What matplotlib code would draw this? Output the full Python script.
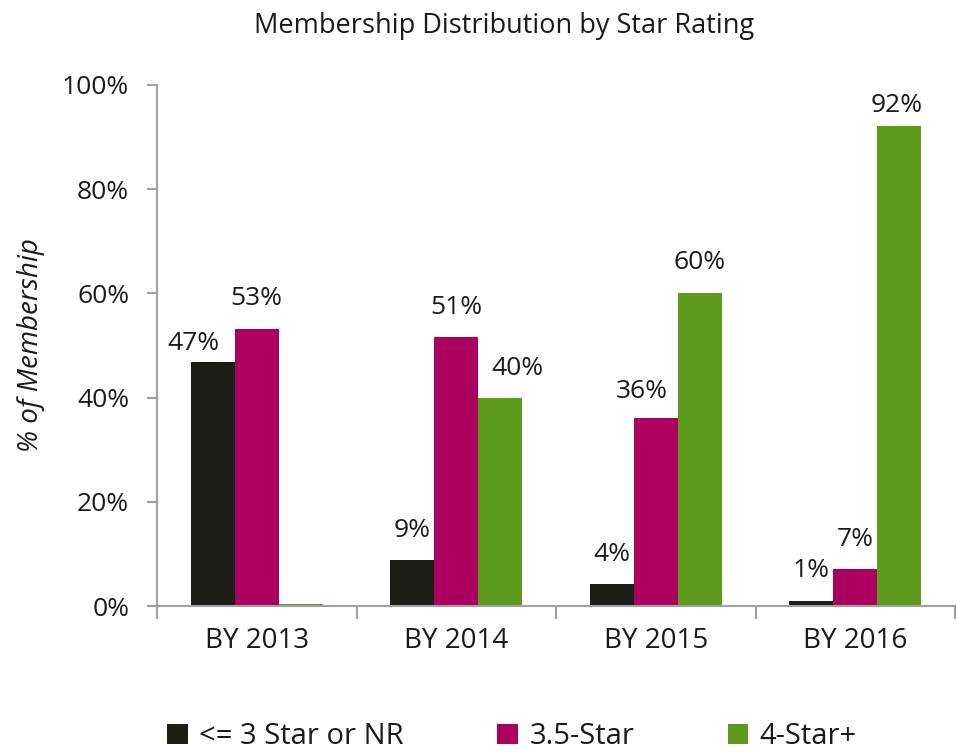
import numpy as np
import matplotlib.pyplot as plt

plt.rcParams['font.family'] = ['Open Sans', 'DejaVu Sans']

years = ['BY 2013', 'BY 2014', 'BY 2015', 'BY 2016']
series = ['<= 3 Star or NR', '3.5-Star', '4-Star+']
low = [46.8, 8.8, 4.2, 1.0]
mid = [53.2, 51.6, 36.1, 7.1]
high = [0.3, 39.9, 60.1, 92.1]
labels = [['47%', '9%', '4%', '1%'],
          ['53%', '51%', '36%', '7%'],
          ['', '40%', '60%', '92%']]
colors = ['#1d1d17', '#ab0060', '#5e9a1c']

# label nudges in pixels (series, category) -> (dx, dy), default (0, 30)
nudge = {(0, 0): (-19, 19), (2, 1): (17, 30), (1, 2): (-14, 26), (2, 3): (-2, 21)}

fig = plt.figure(figsize=(9.57, 7.52), dpi=100)
ax = fig.add_axes([157/957, 146/752, 798/957, 521/752])

x = np.arange(len(years))
w = 0.22
data = [low, mid, high]
for i, vals in enumerate(data):
    pos = x + (i - 1) * w
    ax.bar(pos, vals, width=w, color=colors[i], label=series[i])
    for j, v in enumerate(vals):
        if not labels[i][j]:
            continue
        dx, dy = nudge.get((i, j), (0, 30))
        ax.annotate(labels[i][j], (pos[j], v), xytext=(dx * 0.72, dy * 0.72),
                    textcoords='offset points', ha='center', va='center',
                    fontsize=19, color='#1a1a1a')

ax.set_xlim(-0.5, 3.5)
ax.set_ylim(0, 100)
ax.set_yticks(range(0, 101, 20))
ax.set_yticklabels([f'{t}%' for t in range(0, 101, 20)], fontsize=19, color='#1a1a1a')
ax.set_xticks(x)
ax.set_xticklabels(years, fontsize=20, color='#1a1a1a')
ax.set_xticks(np.arange(-0.5, 4, 1), minor=True)
ax.tick_params(axis='x', which='major', length=0, pad=15)
ax.tick_params(axis='x', which='minor', length=9, width=1.5, color='#a0a0a0', direction='out')
ax.tick_params(axis='y', length=7, width=1.5, color='#a0a0a0', direction='out', pad=13)

for s in ['top', 'right']:
    ax.spines[s].set_visible(False)
for s in ['left', 'bottom']:
    ax.spines[s].set_color('#a0a0a0')
    ax.spines[s].set_linewidth(1.5)

ax.set_ylabel('% of Membership', fontsize=20, style='italic', labelpad=12, color='#1a1a1a')
fig.text(0.527, 0.966, 'Membership Distribution by Star Rating', ha='center', va='center',
         fontsize=19.5, color='#1a1a1a')

fig.legend(loc='center', bbox_to_anchor=(0.535, 0.02), ncol=3, frameon=False,
           fontsize=21, handlelength=0.7, handleheight=0.7, handletextpad=0.4,
           columnspacing=3.2, labelcolor='#1a1a1a')

fig.savefig('out.png', dpi=100)
